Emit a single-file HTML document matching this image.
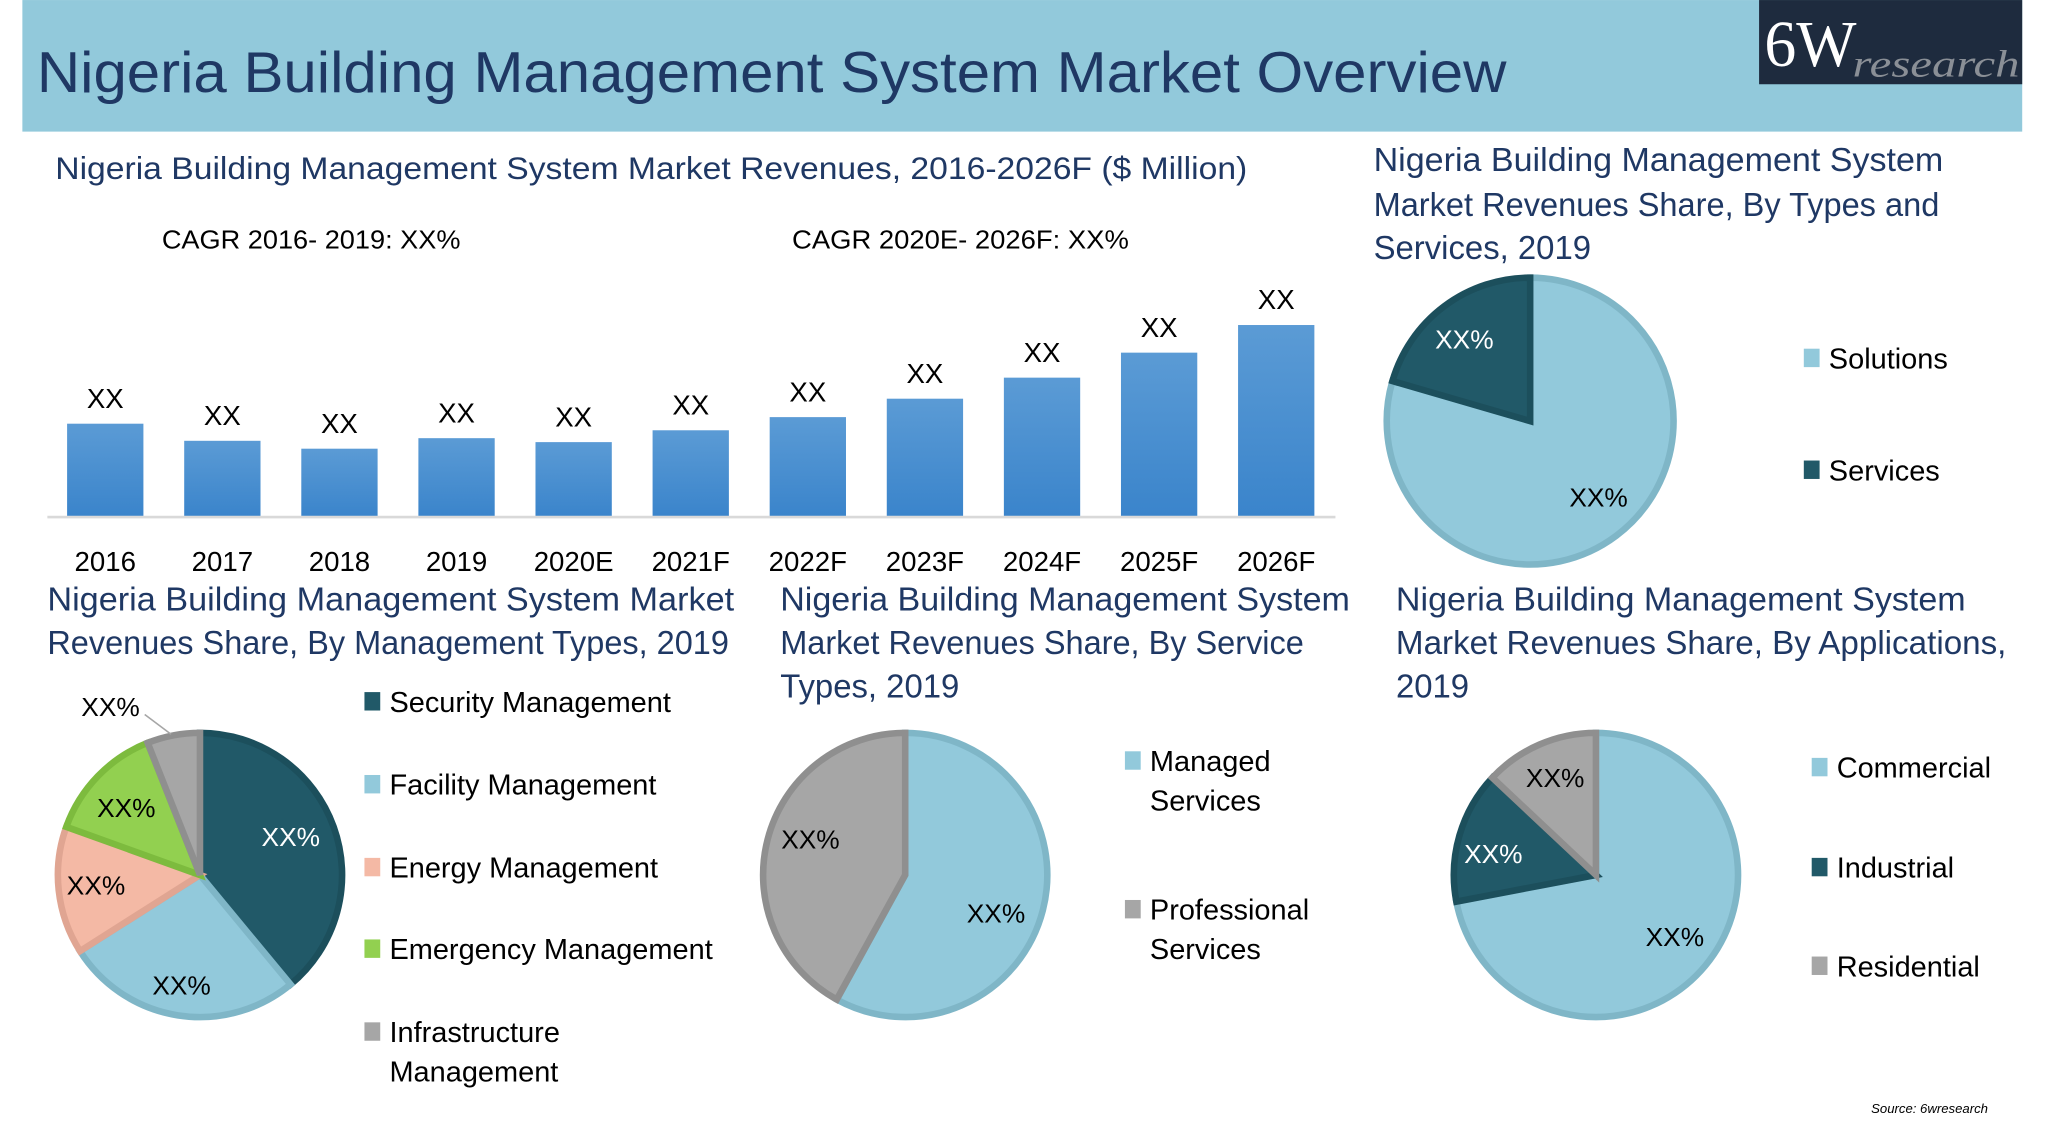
<!DOCTYPE html>
<html><head><meta charset="utf-8"><style>
html,body{margin:0;padding:0;background:#fff;}
svg{display:block;font-family:"Liberation Sans",sans-serif;}
</style></head><body>
<svg id="root" width="2063" height="1125" viewBox="0 0 1568 855" xmlns="http://www.w3.org/2000/svg">
<defs>
<linearGradient id="barGrad" x1="0" y1="0" x2="0" y2="1"><stop offset="0" stop-color="#5b9bd5"/><stop offset="1" stop-color="#3a84cb"/></linearGradient>
</defs>
<rect x="17" y="0" width="1520" height="100" fill="#92c9db"/>
<text x="28" y="70" font-size="44" fill="#1f3864" textLength="1117" lengthAdjust="spacingAndGlyphs">Nigeria Building Management System Market Overview</text>
<g>
<rect x="1337" y="0" width="200" height="64" fill="#1e2b3e"/>
<text x="1341" y="50" font-family="Liberation Serif,serif" font-size="50" fill="#fff" textLength="70" lengthAdjust="spacingAndGlyphs">6W</text>
<text x="1408" y="58" font-family="Liberation Serif,serif" font-style="italic" font-size="29" fill="#8a8f96" textLength="127" lengthAdjust="spacingAndGlyphs">research</text>
</g>
<text x="42" y="136" font-size="24" fill="#1f3864" textLength="906" lengthAdjust="spacingAndGlyphs">Nigeria Building Management System Market Revenues, 2016-2026F ($ Million)</text>
<text x="123" y="189" font-size="20" fill="#000" textLength="227" lengthAdjust="spacingAndGlyphs">CAGR 2016- 2019: XX%</text>
<text x="602" y="189" font-size="20" fill="#000" textLength="256" lengthAdjust="spacingAndGlyphs">CAGR 2020E- 2026F: XX%</text>
<g id="bars"></g>
<line x1="36" y1="393" x2="1015" y2="393" stroke="#d9d9d9" stroke-width="2"/>

<g font-size="25" fill="#1f3864">
<text x="1044" y="130" textLength="433" lengthAdjust="spacingAndGlyphs">Nigeria Building Management System</text>
<text x="1044" y="164" textLength="430" lengthAdjust="spacingAndGlyphs">Market Revenues Share, By Types and</text>
<text x="1044" y="197">Services, 2019</text>
</g>
<g font-size="25" fill="#1f3864">
<text x="36" y="464" textLength="522" lengthAdjust="spacingAndGlyphs">Nigeria Building Management System Market</text>
<text x="36" y="497" textLength="518" lengthAdjust="spacingAndGlyphs">Revenues Share, By Management Types, 2019</text>
</g>
<g font-size="25" fill="#1f3864">
<text x="593" y="464" textLength="433" lengthAdjust="spacingAndGlyphs">Nigeria Building Management System</text>
<text x="593" y="497" textLength="398" lengthAdjust="spacingAndGlyphs">Market Revenues Share, By Service</text>
<text x="593" y="530">Types, 2019</text>
</g>
<g font-size="25" fill="#1f3864">
<text x="1061" y="464" textLength="433" lengthAdjust="spacingAndGlyphs">Nigeria Building Management System</text>
<text x="1061" y="497" textLength="464" lengthAdjust="spacingAndGlyphs">Market Revenues Share, By Applications,</text>
<text x="1061" y="530">2019</text>
</g>
<g id="pies"></g>
<g id="legends" font-size="22" fill="#000"></g>
<line x1="110" y1="543" x2="130" y2="558" stroke="#a6a6a6" stroke-width="1.2"/>
<text x="1511" y="846" font-size="10" font-style="italic" text-anchor="end" fill="#000">Source: 6wresearch</text>
</svg>
<script>
const barCategories = ["2016","2017","2018","2019","2020E","2021F","2022F","2023F","2024F","2025F","2026F"];
const barValues = [71,58,52,60,57,66,76,90,106,125,146];
const barLabels = ["XX","XX","XX","XX","XX","XX","XX","XX","XX","XX","XX"];

const typesLabels = ["Solutions","Services"];
const typesValues = [79.5,20.5];
const mgmtLabels = ["Security Management","Facility Management","Energy Management","Emergency Management","Infrastructure Management"];
const mgmtValues = [39,27,14.5,13.5,6];
const serviceLabels = ["Managed Services","Professional Services"];
const serviceValues = [58,42];
const appLabels = ["Commercial","Industrial","Residential"];
const appValues = [72,15,13];

const NS="http://www.w3.org/2000/svg";
function mk(tag, attrs, parent){const e=document.createElementNS(NS,tag);for(const k in attrs)e.setAttribute(k,attrs[k]);parent.appendChild(e);return e;}

const baseY=393, x0=80, step=89, bw=58, yScale=1;
const xPos=i=>x0+i*step;
const yPos=v=>baseY-v*yScale;
const bars=document.getElementById('bars');
barValues.forEach((v,i)=>{
  const r=mk('rect',{x:xPos(i)-bw/2,y:yPos(v),width:bw,height:baseY-yPos(v),fill:'url(#barGrad)'},bars);
  
  
  const t=mk('text',{x:xPos(i),y:yPos(v)-12,'font-size':21,'text-anchor':'middle',fill:'#000'},bars);
  t.textContent=barLabels[i];
  
  
  const c=mk('text',{x:xPos(i),y:434,'font-size':21,'text-anchor':'middle',fill:'#000'},bars);
  c.textContent=barCategories[i];
  
  
});

const pies=document.getElementById('pies');
function drawPie(name,cx,cy,r,values,fills,strokes,labelPos,labelColors){
  const g=mk('g',{},pies);
  
  
  const tot=values.reduce((a,b)=>a+b,0);
  let a=0;
  values.forEach((v,i)=>{
    const a1=a, a2=a+v/tot*2*Math.PI; a=a2;
    const p1=[cx+r*Math.sin(a1),cy-r*Math.cos(a1)], p2=[cx+r*Math.sin(a2),cy-r*Math.cos(a2)];
    const large=(a2-a1)>Math.PI?1:0;
    const p=mk('path',{d:`M${cx},${cy}L${p1[0]},${p1[1]}A${r},${r} 0 ${large} 1 ${p2[0]},${p2[1]}Z`,fill:fills[i],stroke:strokes[i],'stroke-width':5,'stroke-linejoin':'miter'},g);
    
    
  });
  labelPos.forEach((lp,i)=>{
    const t=mk('text',{x:lp[0],y:lp[1],'font-size':20,'text-anchor':'middle',fill:labelColors[i]},g);
    t.textContent='XX%';
    
    
  });
}
const DARK='#215968',DARKS='#1c4f5c',LIGHT='#92c9db',LIGHTS='#7fb6c7',GRAY='#a6a6a6',GRAYS='#8f8f8f';
drawPie('types-pie',1163,320,109,typesValues,[LIGHT,DARK],[LIGHTS,DARKS],[[1215,385],[1113,265]],['#000','#fff']);
drawPie('management-pie',152,665,108,mgmtValues,[DARK,LIGHT,'#f4b9a5','#92d050',GRAY],[DARKS,LIGHTS,'#e0a592','#7dbb3e',GRAYS],[[221,643],[138,756],[73,680],[96,621],[84,544]],['#fff','#000','#000','#000','#000']);
drawPie('service-pie',688,665,108,serviceValues,[LIGHT,GRAY],[LIGHTS,GRAYS],[[757,701],[616,645]],['#000','#000']);
drawPie('applications-pie',1213,665,108,appValues,[LIGHT,DARK,GRAY],[LIGHTS,DARKS,GRAYS],[[1273,719],[1135,656],[1182,598]],['#000','#fff','#000']);

const legends=document.getElementById('legends');
function legend(x,y,color,lines){
  const g=mk('g',{},legends);
  
  
  mk('rect',{x:x,y:y-15,width:12,height:14,fill:color},g);
  lines.forEach((l,k)=>{const t=mk('text',{x:x+19,y:y+k*30},g);t.textContent=l;});
}
legend(1371,280,LIGHT,[typesLabels[0]]);
legend(1371,365,DARK,[typesLabels[1]]);
legend(277,541,DARK,[mgmtLabels[0]]);
legend(277,604,LIGHT,[mgmtLabels[1]]);
legend(277,667,'#f4b9a5',[mgmtLabels[2]]);
legend(277,729,'#92d050',[mgmtLabels[3]]);
legend(277,792,GRAY,['Infrastructure','Management']);
legend(855,586,LIGHT,['Managed','Services']);
legend(855,699,GRAY,['Professional','Services']);
legend(1377,591,LIGHT,[appLabels[0]]);
legend(1377,667,DARK,[appLabels[1]]);
legend(1377,742,GRAY,[appLabels[2]]);
</script>
</body></html>
